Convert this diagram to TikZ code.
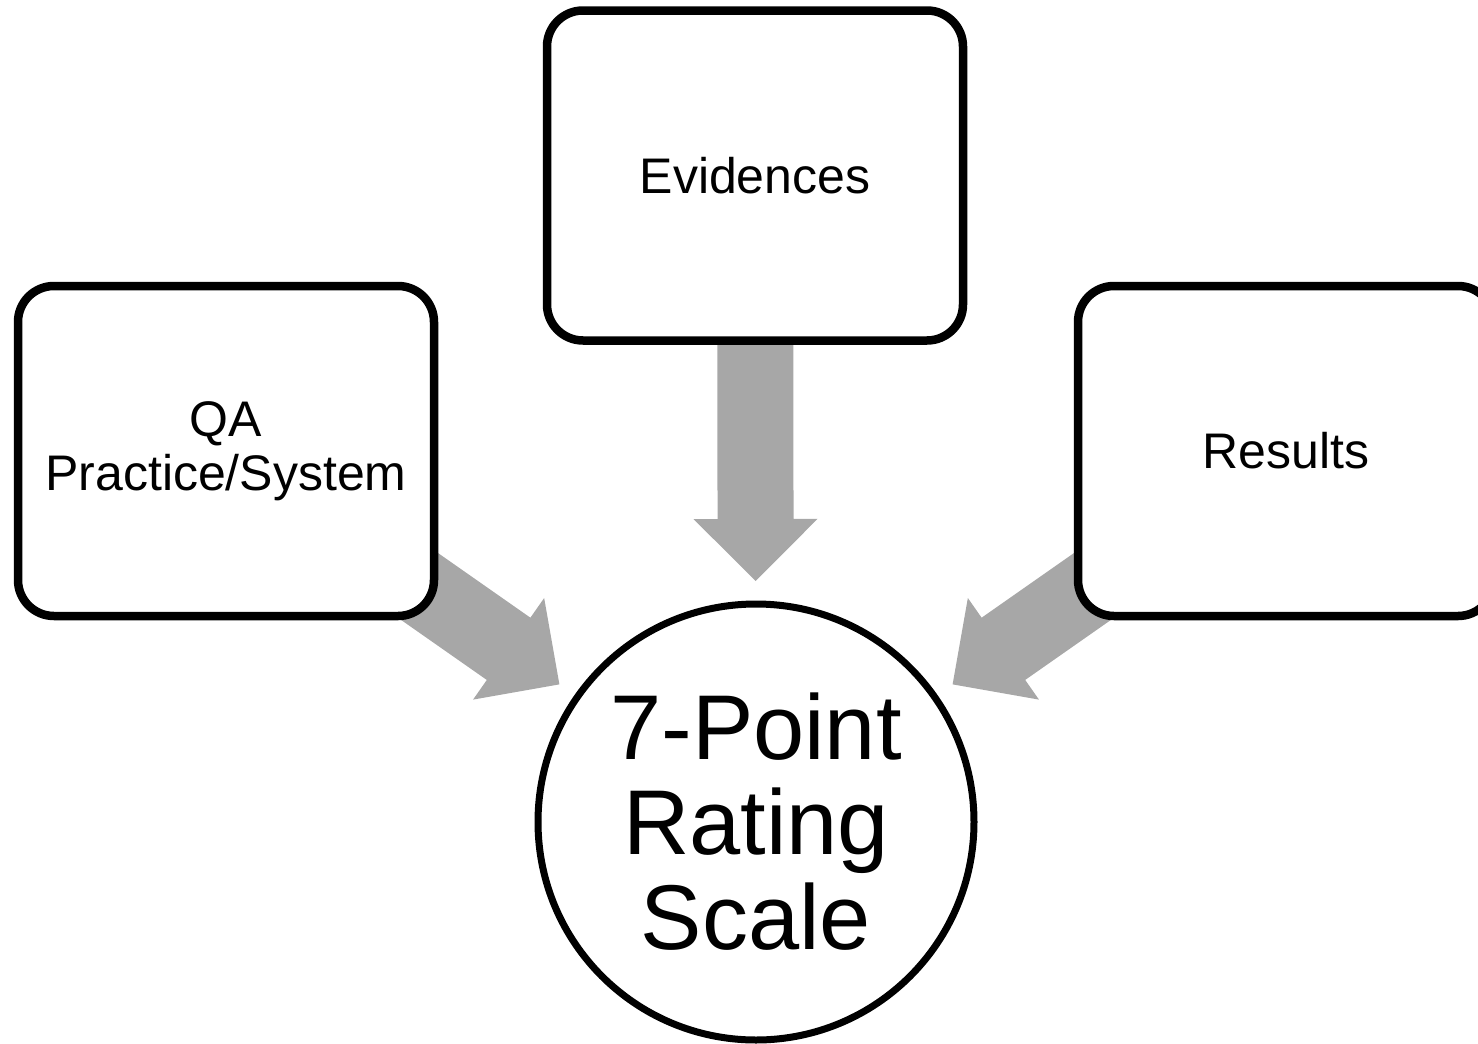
\documentclass[tikz,border=0pt]{standalone}
\usepackage{fontspec}
\setmainfont{Liberation Sans}
\usetikzlibrary{calc,shadows,backgrounds}
\definecolor{arrowgray}{RGB}{167,167,167}
\tikzset{
  box/.style={draw=black, line width=8.5pt, rounded corners=36pt, fill=white,
    minimum width=416pt, minimum height=330pt, align=center, inner sep=0pt,
    font=\fontsize{50}{54}\selectfont,
    drop shadow={shadow xshift=2pt, shadow yshift=-3pt, opacity=0.18}},
  hub/.style={circle, draw=black, line width=7pt, fill=white, minimum size=436pt,
    align=center, inner sep=0pt, font=\fontsize{92}{95}\selectfont},
  flow/.style={fill=arrowgray}
}
% block arrow from #1 (tail) to #2 (tip)
\newcommand\blockarrow[2]{%
  \coordinate (#2-base) at ($(#2)!62pt!(#1)$);
  \fill[flow] (#2)
    -- ($(#2-base)!62pt!90:(#2)$)
    -- ($(#2-base)!38pt!90:(#2)$)
    -- ($(#1)!38pt!90:(#2)$)
    -- ($(#1)!38pt!-90:(#2)$)
    -- ($(#2-base)!38pt!-90:(#2)$)
    -- ($(#2-base)!62pt!-90:(#2)$)
    -- cycle;
}
\begin{document}
\begin{tikzpicture}[x=1pt, y=-1pt]
  \useasboundingbox (0,0) rectangle (1478,1044);
  \clip (0,0) rectangle (1478,1044);
  \node[box] (ev) at (755,175.5) {Evidences};
  \node[box] (qa) at (226,451) {QA\\Practice/System};
  \node[box] (res) at (1286,451) {Results};
  \node[hub] (hub) at (756,822) {7-Point\\Rating\\Scale};
  \coordinate (tipL) at ($(hub.center)!240pt!(qa.center)$);
  \coordinate (tipM) at ($(hub.center)!241pt!(ev.center)$);
  \coordinate (tipR) at ($(hub.center)!240pt!(res.center)$);
  \begin{scope}[on background layer]
    \blockarrow{qa.center}{tipL}
    \blockarrow{ev.center}{tipM}
    \blockarrow{res.center}{tipR}
  \end{scope}
\end{tikzpicture}
\end{document}
